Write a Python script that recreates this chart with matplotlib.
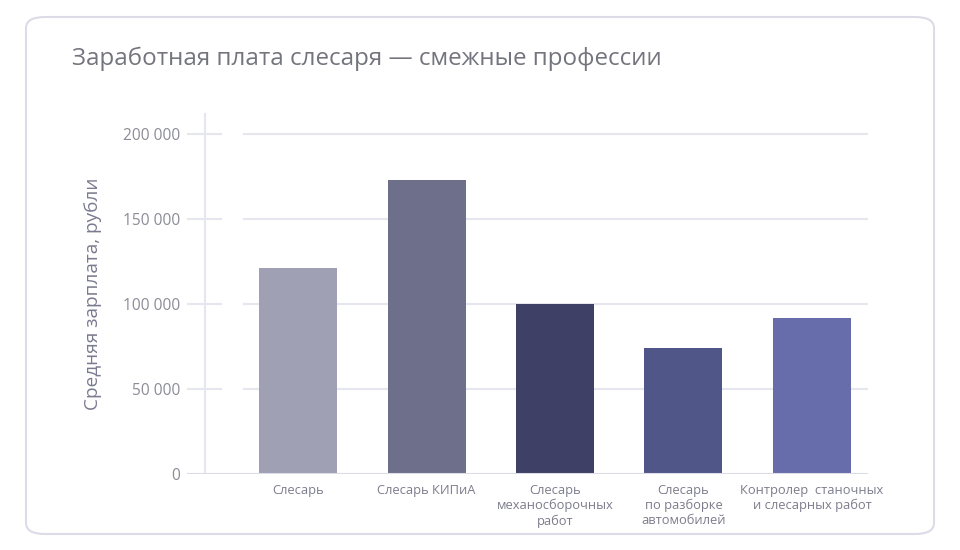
import matplotlib.pyplot as plt
from matplotlib.patches import FancyBboxPatch

categories = ['Слесарь', 'Слесарь КИПиА', 'Слесарь\nмеханосборочных\nработ',
              'Слесарь\nпо разборке\nавтомобилей',
              'Контролер  станочных\nи слесарных работ']
salaries = [121000, 173000, 100000, 74000, 92000]
bar_colors = ['#a0a0b4', '#6e6f8b', '#3e4066', '#515689', '#676cab']
yticks = [0, 50000, 100000, 150000, 200000]
ytick_labels = ['0', '50 000', '100 000', '150 000', '200 000']

plt.rcParams['font.family'] = ['Open Sans', 'DejaVu Sans']

fig = plt.figure(figsize=(9.6, 5.5), dpi=100)
fig.patch.set_facecolor('white')

# card frame
card = FancyBboxPatch((26 / 960, 1 - 534 / 550), 908 / 960, 517 / 550,
                      boxstyle='round,pad=0,rounding_size=0.02',
                      transform=fig.transFigure, facecolor='none',
                      edgecolor='#dcdce8', linewidth=1.5, zorder=-1)
fig.patches.append(card)

fig.text(72 / 960, 1 - 59 / 550, 'Заработная плата слесаря — смежные профессии',
         fontsize=17.4, color='#74747e', va='center', ha='left')

ax = fig.add_axes([187 / 960, 1 - 474 / 550, 681 / 960, 361 / 550])
ax.set_facecolor('none')
ax.set_xlim(-0.864, 4.436)
ax.set_ylim(0, 212300)

grid_c = '#e6e6ef'
for t in yticks[1:]:
    ax.axhline(t, xmin=0, xmax=0.05, color=grid_c, lw=1.5, zorder=0)
    ax.axhline(t, xmin=0.0837, xmax=1, color=grid_c, lw=1.5, zorder=0)
ax.axhline(0, color='#dcdce6', lw=1.5, zorder=3)
ax.axvline(-0.724, color=grid_c, lw=1.5, zorder=0)

x = range(len(categories))
ax.bar(x, salaries, width=0.607, color=bar_colors, zorder=2)

for s in ax.spines.values():
    s.set_visible(False)
ax.set_yticks(yticks)
ax.set_yticklabels(ytick_labels)
ax.set_xticks(list(x))
ax.set_xticklabels(categories, linespacing=1.2)
ax.tick_params(axis='y', length=0, pad=5, labelsize=11.2, labelcolor='#8c8c98')
ax.tick_params(axis='x', length=0, pad=7, labelsize=9.3, labelcolor='#7c7c8c')

ax.set_ylabel('Средняя зарплата, рубли', fontsize=13.7, color='#7a7a90',
              labelpad=15)

fig.savefig('out.png', dpi=100)
